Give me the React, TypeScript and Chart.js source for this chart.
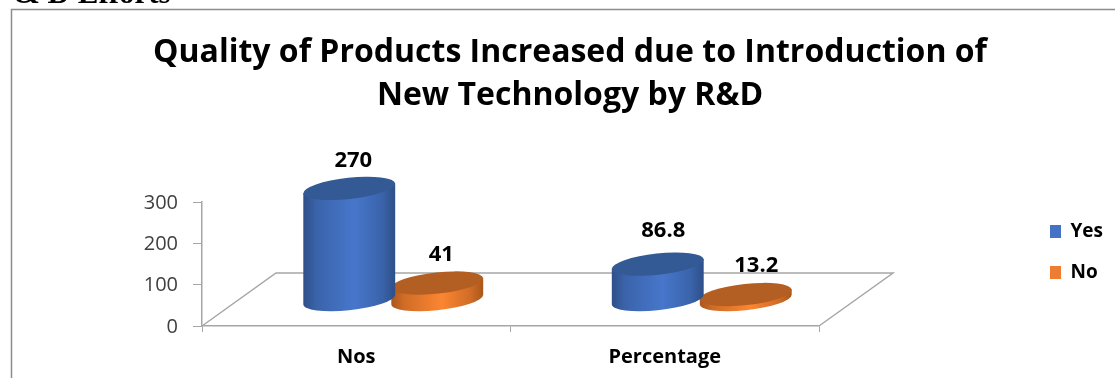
import React, { useEffect, useRef } from "react";
import { Chart, registerables } from "chart.js";

Chart.register(...registerables);

const categories = ["Nos", "Percentage"];
const yesValues = [270, 86.8];
const noValues = [41, 13.2];
const yTicks = [0, 100, 200, 300];
const titleLines = [
  "Quality of Products Increased due to Introduction of",
  "New Technology by R&D",
];
const headingTail = "& D Efforts";

const WIDTH = 1115;
const HEIGHT = 378;
const UI_FONT = "'Open Sans', sans-serif";
const AXIS_GREY = "#a6a6a6";

// Floor depth of the pseudo-3D plot, in pixels.
const DEPTH_X = 74;
const DEPTH_Y = 53;
const TILT = (-6.2 * Math.PI) / 180;
const ROUNDNESS = 0.23;

const palettes = [
  { flat: "#4472c4", edge: "#2e4f88", side: "#3a63aa", glow: "#4776cb", cap: "#345a96" },
  { flat: "#ed7d31", edge: "#a9571b", side: "#d06c26", glow: "#fb8632", cap: "#b35f23" },
];

function drawCylinder(
  ctx: CanvasRenderingContext2D,
  cx: number,
  baseY: number,
  topY: number,
  a: number,
  p: (typeof palettes)[number],
) {
  const b = a * ROUNDNESS;
  const t0 = Math.atan2(-b * Math.sin(TILT), a * Math.cos(TILT));
  const ex = a * Math.cos(t0) * Math.cos(TILT) - b * Math.sin(t0) * Math.sin(TILT);
  const ey = a * Math.cos(t0) * Math.sin(TILT) + b * Math.sin(t0) * Math.cos(TILT);

  const grad = ctx.createLinearGradient(cx - ex, 0, cx + ex, 0);
  grad.addColorStop(0, p.edge);
  grad.addColorStop(0.14, p.side);
  grad.addColorStop(0.55, p.glow);
  grad.addColorStop(0.86, p.side);
  grad.addColorStop(1, p.edge);

  ctx.beginPath();
  ctx.moveTo(cx + ex, topY + ey);
  ctx.lineTo(cx + ex, baseY + ey);
  ctx.ellipse(cx, baseY, a, b, TILT, t0, t0 + Math.PI);
  ctx.lineTo(cx - ex, topY - ey);
  ctx.closePath();
  ctx.fillStyle = grad;
  ctx.fill();

  ctx.beginPath();
  ctx.ellipse(cx, topY, a, b, TILT, 0, Math.PI * 2);
  ctx.fillStyle = p.cap;
  ctx.fill();
}

// Cylinders stand halfway back on the floor and slightly overlap their neighbour.
function placeBar(chart: any, barX: number, barWidth: number) {
  return {
    cx: barX + DEPTH_X / 2,
    a: (barWidth / 2) * 1.05,
    floorY: chart.chartArea.bottom - DEPTH_Y / 2,
  };
}

const cylinderPlugin = {
  id: "cylinders",
  afterLayout(chart: any) {
    // The legend sits in the right margin and the title is centred over the plot.
    chart.legend.left = 1028;
    chart.legend.right = 1126;
    chart.legend.top = 200;
    chart.legend.bottom = 326;
    chart.titleBlock.left = 25;
    chart.titleBlock.right = WIDTH;
  },
  beforeDraw(chart: any) {
    const { ctx } = chart;
    ctx.save();
    ctx.strokeStyle = "#8c8c8c";
    ctx.lineWidth = 1.5;
    ctx.beginPath();
    ctx.moveTo(11.5, HEIGHT);
    ctx.lineTo(11.5, 9.5);
    ctx.lineTo(WIDTH, 9.5);
    ctx.stroke();

    ctx.fillStyle = "#000";
    ctx.font = "bold 31px 'Liberation Serif', serif";
    ctx.textAlign = "left";
    ctx.textBaseline = "alphabetic";
    ctx.fillText(headingTail, 14, 3);
    ctx.restore();
  },
  beforeDatasetsDraw(chart: any) {
    const { ctx, chartArea: c } = chart;
    ctx.save();
    ctx.strokeStyle = AXIS_GREY;
    ctx.lineWidth = 1.5;
    ctx.beginPath();
    ctx.moveTo(c.left, c.bottom);
    ctx.lineTo(c.left + DEPTH_X, c.bottom - DEPTH_Y);
    ctx.lineTo(c.right + DEPTH_X, c.bottom - DEPTH_Y);
    ctx.lineTo(c.right, c.bottom);
    ctx.stroke();
    ctx.restore();
  },
  beforeDatasetDraw(chart: any, args: any) {
    const { ctx } = chart;
    const p = palettes[args.index];
    args.meta.data.forEach((bar: any) => {
      const { cx, a, floorY } = placeBar(chart, bar.x, bar.width);
      const h = bar.base - bar.y;
      drawCylinder(ctx, cx, floorY, floorY - h, a, p);
    });
    return false;
  },
  afterDatasetsDraw(chart: any) {
    const { ctx } = chart;
    ctx.save();
    ctx.fillStyle = "#000";
    ctx.font = `bold 22px ${UI_FONT}`;
    ctx.textAlign = "center";
    ctx.textBaseline = "middle";
    // Clearance of each value label above its cylinder, by category then series.
    const lift = [
      [28, 28],
      [33, 29],
    ];
    chart.data.datasets.forEach((ds: any, d: number) => {
      chart.getDatasetMeta(d).data.forEach((bar: any, i: number) => {
        const { cx, floorY } = placeBar(chart, bar.x, bar.width);
        const h = bar.base - bar.y;
        const nudge = 4 + i * (1.5 + d * 5);
        ctx.fillText(String(ds.data[i]), cx + nudge, floorY - h - lift[i][d]);
      });
    });
    ctx.restore();
  },
};

export default function App() {
  const ref = useRef<HTMLCanvasElement>(null);

  useEffect(() => {
    const chart = new Chart(ref.current as HTMLCanvasElement, {
      type: "bar",
      data: {
        labels: categories,
        datasets: [
          { label: "Yes", data: yesValues, backgroundColor: palettes[0].flat },
          { label: "No", data: noValues, backgroundColor: palettes[1].flat },
        ],
      },
      plugins: [cylinderPlugin],
      options: {
        responsive: false,
        animation: false,
        categoryPercentage: 0.5705,
        barPercentage: 1,
        layout: { padding: { left: 0, right: 0, top: 0, bottom: 0 } },
        plugins: {
          tooltip: { enabled: false },
          title: {
            display: true,
            text: titleLines,
            color: "#000",
            font: { family: UI_FONT, size: 32, weight: "bold", lineHeight: 1.344 },
            padding: { top: 31, bottom: 85 },
          },
          legend: {
            position: "right",
            align: "start",
            // Reserves the empty margin right of the floor; the legend itself is
            // moved into that margin once layout has run.
            maxWidth: 296,
            labels: {
              boxWidth: 11,
              boxHeight: 13,
              padding: 22,
              color: "#000",
              font: { family: UI_FONT, size: 19, weight: "bold" },
            },
          },
        },
        scales: {
          x: {
            afterFit: (s: any) => {
              s.height = HEIGHT - 326;
            },
            border: { color: AXIS_GREY, width: 1.5 },
            grid: { drawOnChartArea: false, tickLength: 6, color: AXIS_GREY, offset: true },
            ticks: {
              color: "#000",
              padding: 13,
              maxRotation: 0,
              font: { family: UI_FONT, size: 20, weight: "bold" },
            },
          },
          y: {
            min: 0,
            max: 300,
            afterFit: (s: any) => {
              s.width = 202;
            },
            afterBuildTicks: (s: any) => {
              s.ticks = yTicks.map((value) => ({ value }));
            },
            border: { color: AXIS_GREY, width: 1.5 },
            grid: { drawOnChartArea: false, tickLength: 9, color: AXIS_GREY },
            ticks: {
              color: "#404040",
              padding: 15,
              labelOffset: 1,
              font: { family: UI_FONT, size: 20 },
            },
          },
        },
      },
    } as any);
    // Give the legend block the full margin so the plot stops where the floor's front edge ends.
    const legend: any = chart.legend;
    const originalFit = legend.fit.bind(legend);
    legend.fit = () => {
      originalFit();
      legend.width = 296;
    };
    chart.update();
    return () => chart.destroy();
  }, []);

  return (
    <canvas
      ref={ref}
      width={WIDTH}
      height={HEIGHT}
      style={{ position: "fixed", left: 0, top: 0, width: WIDTH, height: HEIGHT, background: "#fff" }}
    />
  );
}
